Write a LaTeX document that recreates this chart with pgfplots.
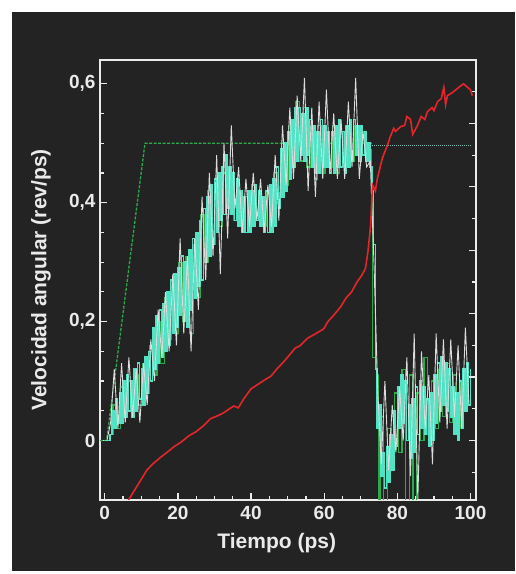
\documentclass[border=0pt]{standalone}
\usepackage{fontspec}
\setmainfont{Liberation Sans}
\usepackage{pgfplots}
\pgfplotsset{compat=1.18}
\definecolor{bg}{HTML}{232323}
\definecolor{fg}{HTML}{EAEAEA}
\definecolor{cyanT}{HTML}{52E2C4}
\definecolor{greenT}{HTML}{2BAA4C}
\definecolor{redT}{HTML}{E3262A}
\definecolor{grayT}{HTML}{DCDCDC}
\definecolor{dotB}{HTML}{7FB8B0}
\begin{document}
\begin{tikzpicture}[x=1pt,y=1pt]
\fill[white] (0,0) rectangle (515,574);
\fill[bg] (12,3) rectangle (515,562);
\begin{axis}[at={(100pt,74pt)}, anchor=south west, scale only axis,
  width=376pt, height=440pt,
  xmin=-1.3, xmax=101.5, ymin=-0.1, ymax=0.64,
  axis line style={fg, line width=2pt},
  tick style={fg, line width=1.2pt},
  major tick length=7pt, minor tick length=4pt,
  tick align=inside,
  xtick={0,20,40,60,80,100}, xticklabels={0,20,40,60,80,100},
  minor x tick num=3,
  ytick={0,0.2,0.4,0.6}, yticklabels={0,{0,2},{0,4},{0,6}},
  minor y tick num=3,
  xtick pos=left, ytick pos=left,
  ticklabel style={font=\fontsize{19}{19}\selectfont\bfseries, text=fg},
  xticklabel style={yshift=-3pt},
  yticklabel style={xshift=-1pt},
  label style={font=\fontsize{21}{21}\selectfont\bfseries, text=fg},
  xlabel={Tiempo (ps)}, ylabel={Velocidad angular (rev/ps)},
  xlabel style={at={(axis description cs:0.47,-0.098)}, anchor=center},
  ylabel style={at={(axis description cs:-0.157,0.5)}, anchor=center},
  clip=true,
]
% imposed velocity
\addplot[greenT, line width=1.3pt, dash pattern=on 3pt off 1.5pt] coordinates {(-1.3,0) (0.5,0) (11,0.5) (73,0.5)};
\addplot[dotB, line width=1pt, densely dotted] coordinates {(73,0.497) (100,0.497)};
% green noisy trace
\addplot[greenT, line width=1.3pt, const plot] coordinates {
(0.25,0) (1.25,0.01) (2.25,0.06) (3.25,0.02) (4.25,0.09) (5.25,0.04) (6.25,0.10) (7.25,0.05)
(8.25,0.11) (9.25,0.06) (10.25,0.13) (11.25,0.08) (12.25,0.16) (13.25,0.11) (14.25,0.20) (15.25,0.13)
(16.25,0.24) (17.25,0.17) (18.25,0.27) (19.25,0.18) (20.25,0.30) (21.25,0.20) (22.25,0.31) (23.25,0.18)
(24.25,0.33) (25.25,0.24) (26.25,0.38) (27.25,0.30) (28.25,0.42) (29.25,0.33) (30.25,0.43) (31.25,0.36)
(32.25,0.45) (33.25,0.38) (34.25,0.44) (35.25,0.37) (36.25,0.42) (37.25,0.36) (38.25,0.41) (39.25,0.37)
(40.25,0.43) (41.25,0.37) (42.25,0.41) (43.25,0.36) (44.25,0.42) (45.25,0.36) (46.25,0.45) (47.25,0.41)
(48.25,0.50) (49.25,0.43) (50.25,0.53) (51.25,0.47) (52.25,0.57) (53.25,0.47) (54.25,0.56) (55.25,0.46)
(56.25,0.53) (57.25,0.44) (58.25,0.53) (59.25,0.45) (60.25,0.52) (61.25,0.46) (62.25,0.53) (63.25,0.45)
(64.25,0.52) (65.25,0.46) (66.25,0.53) (67.25,0.47) (68.25,0.53) (69.25,0.48) (70.25,0.52) (71.25,0.48)
(72.25,0.49) (73.0,0.44) (73.25,0.14) (74.25,0.11) (74.75,-0.12) (75.25,0.04) (76.25,-0.12) (77.25,0.02)
(78.25,-0.04) (79.25,0.08) (80.25,-0.02) (81.25,0.12) (82.25,-0.12) (83.25,0.11) (84.25,-0.12) (85.25,0.08)
(86.25,0.0) (87.25,0.14) (88.25,0.01) (89.25,0.10) (90.25,0.02) (91.25,0.12) (92.25,0.04) (93.25,0.13)
(94.25,0.03) (95.25,0.11) (96.25,0.02) (97.25,0.10) (98.25,0.06) (99.25,0.11)
};
% cyan noisy trace
\addplot[cyanT, line width=1.6pt, const plot] coordinates {
(0,0) (0.5,0) (1,0) (1.5,0.01) (2,0.05) (2.5,0.02) (3,0.07) (3.5,0.03) (4,0.08) (4.5,0.03)
(5,0.10) (5.5,0.04) (6,0.11) (6.5,0.05) (7,0.10) (7.5,0.04) (8,0.12) (8.5,0.05) (9,0.13) (9.5,0.07)
(10,0.12) (10.5,0.06) (11,0.14) (11.5,0.08) (12,0.15) (12.5,0.10) (13,0.19) (13.5,0.12) (14,0.21) (14.5,0.13)
(15,0.22) (15.5,0.14) (16,0.23) (16.5,0.15) (17,0.25) (17.5,0.16) (18,0.27) (18.5,0.18) (19,0.28) (19.5,0.19)
(20,0.29) (20.5,0.21) (21,0.31) (21.5,0.20) (22,0.30) (22.5,0.19) (23,0.32) (23.5,0.22) (24,0.34) (24.5,0.24)
(25,0.35) (25.5,0.26) (26,0.37) (26.5,0.27) (27,0.39) (27.5,0.30) (28,0.41) (28.5,0.31) (29,0.43) (29.5,0.33)
(30,0.44) (30.5,0.35) (31,0.45) (31.5,0.37) (32,0.46) (32.5,0.38) (33,0.48) (33.5,0.39) (34,0.46) (34.5,0.38)
(35,0.45) (35.5,0.37) (36,0.44) (36.5,0.36) (37,0.42) (37.5,0.35) (38,0.41) (38.5,0.35) (39,0.42) (39.5,0.35)
(40,0.42) (40.5,0.36) (41,0.43) (41.5,0.37) (42,0.42) (42.5,0.36) (43,0.41) (43.5,0.35) (44,0.42) (44.5,0.35)
(45,0.43) (45.5,0.35) (46,0.44) (46.5,0.36) (47,0.46) (47.5,0.39) (48,0.49) (48.5,0.41) (49,0.50) (49.5,0.42)
(50,0.52) (50.5,0.44) (51,0.54) (51.5,0.46) (52,0.56) (52.5,0.47) (53,0.56) (53.5,0.48) (54,0.55) (54.5,0.47)
(55,0.56) (55.5,0.48) (56,0.54) (56.5,0.46) (57,0.53) (57.5,0.45) (58,0.52) (58.5,0.45) (59,0.54) (59.5,0.46)
(60,0.53) (60.5,0.46) (61,0.52) (61.5,0.45) (62,0.52) (62.5,0.45) (63,0.53) (63.5,0.46) (64,0.54) (64.5,0.46)
(65,0.52) (65.5,0.45) (66,0.53) (66.5,0.46) (67,0.54) (67.5,0.47) (68,0.54) (68.5,0.48) (69,0.53) (69.5,0.47)
(70,0.53) (70.5,0.48) (71,0.52) (71.5,0.47) (72,0.50) (72.5,0.46) (73,0.42) (73.5,0.33) (74,0.12) (74.5,0.02)
(75,0.06) (75.5,-0.06) (76,-0.02) (76.5,-0.08) (77,-0.01) (77.5,-0.07) (78,0.01) (78.5,-0.05) (79,0.05) (79.5,-0.01)
(80,0.09) (80.5,0.02) (81,0.11) (81.5,0.03) (82,0.10) (82.5,0.0) (83,0.06) (83.5,-0.03) (84,0.07) (84.5,-0.02)
(85,0.09) (85.5,0.01) (86,0.10) (86.5,0.02) (87,0.09) (87.5,0.01) (88,0.07) (88.5,-0.01) (89,0.08) (89.5,0.00)
(90,0.11) (90.5,0.03) (91,0.13) (91.5,0.05) (92,0.14) (92.5,0.06) (93,0.13) (93.5,0.05) (94,0.12) (94.5,0.04)
(95,0.09) (95.5,0.01) (96,0.08) (96.5,0.00) (97,0.10) (97.5,0.02) (98,0.12) (98.5,0.05) (99,0.13) (99.5,0.06) (100,0.12)
};
% white noisy trace
\addplot[grayT, line width=0.9pt] coordinates {
(0.6,0) (1.6,0.03) (2.6,0.12) (3.6,0.02) (4.6,0.13) (5.6,0.03) (6.6,0.14) (7.6,0.04) (8.6,0.12) (9.6,0.03)
(10.6,0.13) (11.6,0.06) (12.6,0.17) (13.6,0.10) (14.6,0.22) (15.6,0.14) (16.6,0.25) (17.6,0.15) (18.6,0.28) (19.6,0.16)
(20.6,0.34) (21.6,0.18) (22.6,0.31) (23.6,0.15) (24.6,0.34) (25.6,0.22) (26.6,0.41) (27.6,0.27) (28.6,0.45) (29.6,0.31)
(30.6,0.48) (31.6,0.28) (32.6,0.50) (33.6,0.34) (34.6,0.53) (35.6,0.39) (36.6,0.46) (37.6,0.35) (38.6,0.44) (39.6,0.36)
(40.6,0.45) (41.6,0.37) (42.6,0.44) (43.6,0.35) (44.6,0.43) (45.6,0.36) (46.6,0.48) (47.6,0.37) (48.6,0.53) (49.6,0.43)
(50.6,0.56) (51.6,0.44) (52.6,0.58) (53.6,0.47) (54.6,0.61) (55.6,0.42) (56.6,0.56) (57.6,0.41) (58.6,0.57) (59.6,0.44)
(60.6,0.59) (61.6,0.45) (62.6,0.55) (63.6,0.44) (64.6,0.54) (65.6,0.44) (66.6,0.57) (67.6,0.46) (68.6,0.61) (69.6,0.44)
(70.6,0.52) (71.6,0.46) (72.6,0.47) (73.6,0.30) (74.6,0.09) (75.6,-0.04) (76.6,0.10) (77.6,-0.05) (78.6,0.06) (79.6,-0.02)
(80.6,0.09) (81.6,0.0) (82.6,0.14) (83.6,-0.06) (84.6,0.18) (85.6,-0.10) (86.6,0.15) (87.6,0.02) (88.6,0.11) (89.6,-0.04)
(90.6,0.18) (91.6,0.03) (92.6,0.17) (93.6,0.02) (94.6,0.17) (95.6,0.04) (96.6,0.16) (97.6,0.02) (98.6,0.19) (99.6,0.06)
};
% red curve
\addplot[redT, line width=1.6pt] coordinates {
(6,-0.105) (7,-0.095) (8,-0.085) (9,-0.075) (10,-0.065) (10.7,-0.058) (11.5,-0.05) (13,-0.04) (15.3,-0.028)
(17,-0.02) (19,-0.01) (20.8,-0.003) (23,0.008) (25,0.015) (27,0.025) (29,0.037) (31,0.042) (32.6,0.047)
(34,0.053) (35.3,0.058) (36.5,0.055) (38,0.07) (40,0.087) (42,0.095) (44,0.103) (45.4,0.108) (47,0.12)
(49,0.133) (50.8,0.146) (52,0.155) (53.5,0.16) (55.4,0.172) (57.2,0.178) (59.9,0.188) (61,0.2) (62.5,0.21)
(64.5,0.225) (66,0.24) (67.5,0.25) (69,0.267) (70.3,0.278) (71.3,0.29) (72,0.32) (72.7,0.363) (73.2,0.43)
(74,0.42) (74.5,0.44) (75.9,0.475) (77.3,0.497) (78,0.51) (79,0.525) (79.5,0.52) (80.9,0.528) (82,0.53)
(82.6,0.545) (83.6,0.54) (84.2,0.515) (85.5,0.53) (86.5,0.545) (87.5,0.54) (88.2,0.553) (89.5,0.56) (90,0.555)
(91,0.57) (92,0.575) (92.7,0.594) (93.2,0.565) (93.7,0.58) (95,0.585) (96,0.59) (97,0.595) (98.1,0.6)
(99,0.595) (100,0.59) (100.5,0.58)
};
\end{axis}
% right axis with its own tick spacing, no labels
\begin{axis}[at={(100pt,74pt)}, anchor=south west, scale only axis,
  width=376pt, height=440pt,
  xmin=-1.3, xmax=101.5, ymin=-0.1, ymax=0.64,
  axis x line=none, axis y line*=right,
  axis line style={fg, line width=2pt},
  tick style={fg, line width=1.2pt},
  major tick length=7pt, minor tick length=4pt,
  tick align=inside,
  ytick={0,0.1067,0.2133,0.32,0.4267,0.5333}, yticklabels={},
  minor ytick={-0.0533,0.0533,0.16,0.2667,0.3733,0.48,0.5867},
]
\end{axis}
\end{tikzpicture}
\end{document}
